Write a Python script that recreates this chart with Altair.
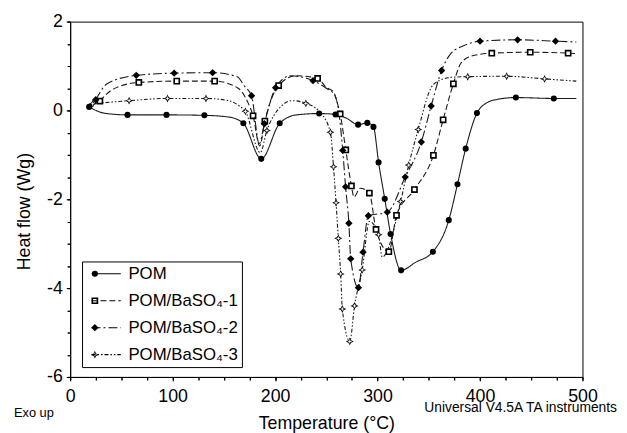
import altair as alt
import pandas as pd

FONT = "Liberation Sans"
SERIES = ["POM", "POM/BaSO₄-1", "POM/BaSO₄-2", "POM/BaSO₄-3"]

# ---- marker points (temperature °C, heat flow W/g) ----
pom_t = [18.5, 56, 94, 131, 169, 186.5, 204.5, 243, 259, 281, 290, 296, 301, 307, 312.7, 323, 354, 369.5, 378, 386, 397, 435, 472]
pom_v = [0.08, -0.10, -0.10, -0.11, -0.29, -1.09, -0.29, -0.07, -0.09, -0.32, -0.28, -0.37, -1.17, -1.99, -2.78, -3.60, -3.18, -2.47, -1.66, -0.86, -0.06, 0.29, 0.27]
s1_t = [29, 67, 104, 141, 178.5, 190, 203.5, 241.5, 263.5, 269, 274.5, 292, 298.5, 311, 318.5, 336, 354.5, 364, 374, 411.5, 449, 486]
s1_v = [0.21, 0.63, 0.66, 0.66, -0.12, -0.24, 0.56, 0.72, -0.08, -0.89, -1.70, -1.86, -2.68, -3.18, -2.36, -1.78, -1.01, -0.21, 0.60, 1.29, 1.31, 1.29]
s2_t = [25, 64.5, 101.5, 139, 177, 189.5, 200.5, 237, 266, 268.8, 272, 273.8, 281.3, 285.8, 291, 309.5, 327, 342.7, 352.3, 362.5, 400, 436.7, 473.7]
s2_v = [0.24, 0.79, 0.84, 0.85, 0.33, -0.30, 0.51, 0.67, -0.90, -1.72, -2.54, -3.34, -3.99, -3.19, -2.37, -2.29, -1.50, -0.71, 0.10, 0.90, 1.56, 1.59, 1.56]
s3_t = [22, 57.5, 95, 132.5, 171, 192, 230, 254, 257, 259.5, 261.7, 264, 265.6, 272.9, 277.5, 285, 301, 322.5, 330.4, 339.7, 388, 426, 463]
s3_v = [0.15, 0.22, 0.27, 0.27, -0.02, -0.45, 0.16, -0.49, -1.27, -2.08, -2.88, -3.68, -4.47, -5.20, -4.40, -3.59, -2.80, -2.05, -1.23, -0.43, 0.76, 0.77, 0.71]

# ---- additional unmarked points along each trace ----
pom_xt = [33, 155, 221, 270, 337, 405, 417, 494]
pom_xv = [-0.06, -0.15, -0.10, -0.18, -3.42, 0.15, 0.25, 0.27]
s1_xt = [42, 164, 173, 185, 220, 250, 257, 261, 277, 283, 381, 391, 494]
s1_xv = [0.48, 0.50, 0.20, -0.80, 0.78, 0.52, 0.42, 0.15, -1.95, -1.75, 1.05, 1.22, 1.28]
s2_xt = [36, 163, 170, 184.5, 215, 250, 258, 262, 371.5, 384.5, 494]
s2_xv = [0.60, 0.76, 0.55, -0.75, 0.78, 0.50, 0.35, 0.00, 1.28, 1.46, 1.54]
s3_xt = [155, 165, 185.5, 204.5, 217, 243, 292, 304.5, 352, 360, 374, 494]
s3_xv = [0.22, 0.10, -0.95, 0.06, 0.22, -0.02, -2.50, -3.30, 0.50, 0.67, 0.75, 0.66]

x_major = [0, 100, 200, 300, 400, 500]
x_minor = list(range(0, 501, 25))
y_major = [-6, -4, -2, 0, 2]
y_minor = [v / 2 for v in range(-12, 5)]

marks = [(pom_t, pom_v), (s1_t, s1_v), (s2_t, s2_v), (s3_t, s3_v)]
extras = [(pom_xt, pom_xv), (s1_xt, s1_xv), (s2_xt, s2_xv), (s3_xt, s3_xv)]

line_rows, pt_rows = [], []
for name, (mt, mv), (et, ev) in zip(SERIES, marks, extras):
    for t, v in zip(mt, mv):
        pt_rows.append({"T": t, "V": v, "Sample": name})
        line_rows.append({"T": t, "V": v, "Series": name})
    for t, v in zip(et, ev):
        line_rows.append({"T": t, "V": v, "Series": name})
line_df = pd.DataFrame(line_rows).sort_values(["Series", "T"])
pt_df = pd.DataFrame(pt_rows)

# open markers as filled rings (outer clockwise, inner counter-clockwise)
SQ_RING = "M-1,-1H1V1H-1ZM-0.52,-0.52V0.52H0.52V-0.52Z"
STAR_RING = ("M0,-1L0.32,-0.32L1,0L0.32,0.32L0,1L-0.32,0.32L-1,0L-0.32,-0.32Z"
             "M0,-0.6L-0.14,-0.14L-0.6,0L-0.14,0.14L0,0.6L0.14,0.14L0.6,0L0.14,-0.14Z")
DASHES = [[1, 0], [6, 3], [9, 3, 2, 3], [4, 2, 1.5, 2, 1.5, 2]]
SHAPES = ["circle", SQ_RING, "diamond", STAR_RING]
SIZES = [38, 64, 64, 90]

xs = alt.Scale(domain=[0, 500], nice=False)
ys = alt.Scale(domain=[-6, 2], nice=False)

common_axis = dict(labelFont=FONT, labelFontSize=18, labelColor="black",
                   titleFont=FONT, titleFontSize=18, titleFontWeight="normal",
                   titleColor="black", domainColor="black", tickColor="black",
                   grid=False, labelFlush=False)

x_axis_major = alt.Axis(values=x_major, orient="bottom", tickSize=4, labelPadding=7,
                        labelExpr="'' + datum.value", title="Temperature (°C)",
                        titleBaseline="alphabetic", titleY=52, **common_axis)
y_axis_major = alt.Axis(values=y_major, orient="left", tickSize=4, labelPadding=4,
                        labelExpr="'' + datum.value", title="Heat flow (Wg)",
                        titleX=-46, titleY=192, titleBaseline="middle", **common_axis)
x_axis_minor = alt.Axis(values=x_minor, orient="bottom", tickSize=3, labels=False,
                        domain=False, title="", tickColor="black", grid=False)
y_axis_minor = alt.Axis(values=y_minor, orient="left", tickSize=3, labels=False,
                        domain=False, title="", tickColor="black", grid=False)

line_legend = alt.Legend(orient="none", legendX=12, legendY=243, title=None,
                         symbolType="stroke", symbolSize=870, symbolStrokeWidth=1.1,
                         symbolStrokeColor="black", symbolOffset=5, padding=4,
                         clipHeight=17, labelOffset=7, rowPadding=9.3,
                         labelFont=FONT, labelFontSize=17, labelColor="black",
                         strokeColor="black", fillColor="white", zindex=0)
pt_legend = alt.Legend(orient="none", legendX=12, legendY=243, title=None,
                       symbolOffset=0.5, padding=4, clipHeight=17, labelOffset=7,
                       rowPadding=9.3, labelFont=FONT, labelFontSize=17,
                       labelExpr="''", symbolFillColor="black", symbolStrokeWidth=0,
                       symbolOpacity=1, zindex=1)

lines = alt.Chart(line_df).mark_line(color="#1a1a1a", strokeWidth=1.1, interpolate="monotone").encode(
    x=alt.X("T:Q", scale=xs, axis=x_axis_major),
    y=alt.Y("V:Q", scale=ys, axis=y_axis_major),
    strokeDash=alt.StrokeDash("Series:N", scale=alt.Scale(range=DASHES), legend=line_legend),
)

# white backing under every marker so lines do not show inside open symbols
backing = alt.Chart(pt_df).mark_circle(color="white", opacity=1, size=20).encode(
    x=alt.X("T:Q", scale=xs, axis=x_axis_minor),
    y=alt.Y("V:Q", scale=ys, axis=y_axis_minor),
)

points = alt.Chart(pt_df).mark_point(filled=True, color="black", opacity=1, strokeWidth=0).encode(
    x=alt.X("T:Q", scale=xs, axis=x_axis_minor),
    y=alt.Y("V:Q", scale=ys, axis=y_axis_minor),
    shape=alt.Shape("Sample:N", scale=alt.Scale(range=SHAPES), legend=pt_legend),
    size=alt.Size("Sample:N", scale=alt.Scale(range=SIZES), legend=pt_legend),
)

notes = pd.DataFrame({"txt": ["Exo up"]})
exo = alt.Chart(notes).mark_text(align="left", baseline="alphabetic", font=FONT,
                                 fontSize=13, color="black").encode(
    text="txt:N", x=alt.value(-57), y=alt.value(401))
notes2 = pd.DataFrame({"txt": ["Universal V4.5A TA instruments"]})
univ = alt.Chart(notes2).mark_text(align="right", baseline="alphabetic", font=FONT,
                                   fontSize=14, color="black").encode(
    text="txt:N", x=alt.value(554), y=alt.value(396))

chart = alt.layer(lines, backing, points, exo, univ).resolve_axis(
    x="independent", y="independent"
).resolve_scale(x="shared", y="shared").properties(
    width=519, height=360,
    autosize=alt.AutoSizeParams(type="none"),
    padding={"left": 63, "top": 11, "right": 37, "bottom": 54},
    background="white",
).configure_view(stroke="black", strokeWidth=1)

chart.save("out.html", embed_options={"renderer": "svg", "actions": False})
